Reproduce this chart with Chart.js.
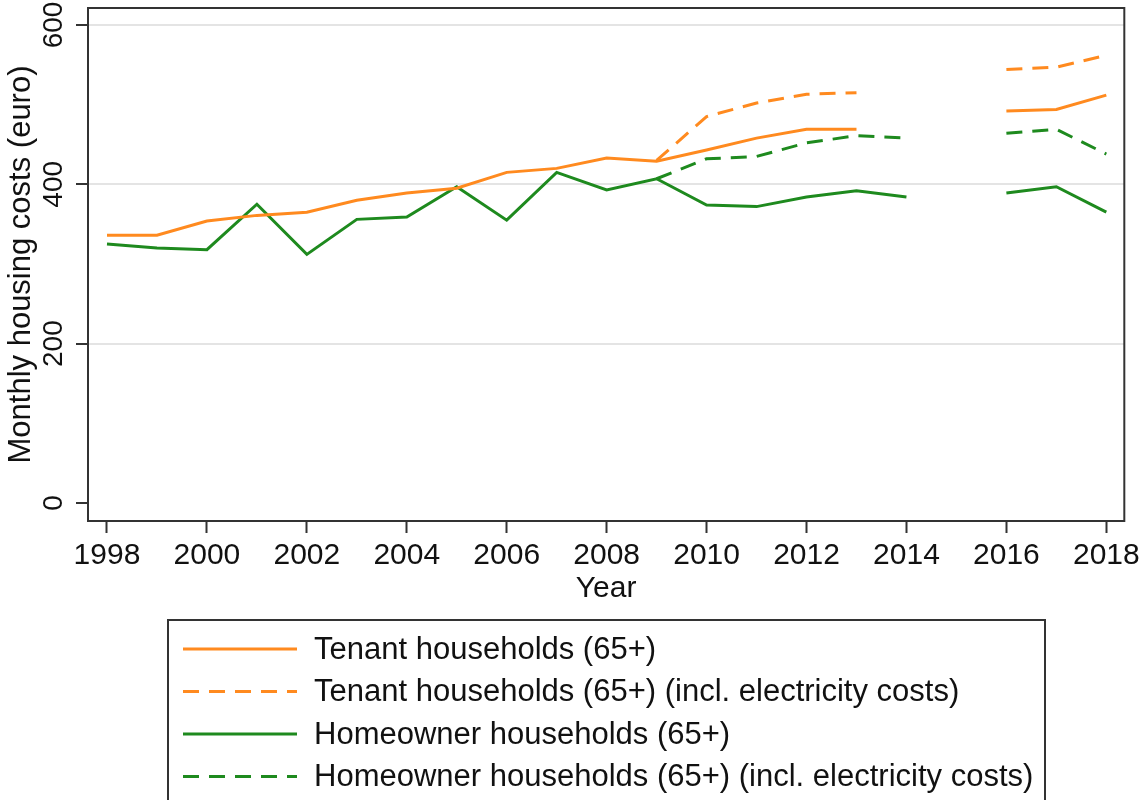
<!DOCTYPE html>
<html lang="en">
<head>
  <meta charset="UTF-8" />
  <title>Monthly housing costs</title>
  <style>
    html, body {
      margin: 0;
      padding: 0;
      background: white;
    }
    #wrap {
      width: 1145px;
      height: 800px;
    }
  </style>
</head>
<body>

<div id="wrap"><canvas id="costChart" width="1145" height="800"></canvas></div>

<script src="https://cdn.jsdelivr.net/npm/chart.js"></script>

<script>
  const years = [1998, 1999, 2000, 2001, 2002, 2003, 2004, 2005, 2006, 2007, 2008,
                 2009, 2010, 2011, 2012, 2013, 2014, 2015, 2016, 2017, 2018];
  const tenant      = [336, 336, 354, 361, 365, 380, 389, 395, 415, 420, 433,
                       429, 443, 458, 469, 469, null, null, 492, 494, 512];
  const tenantElec  = [null, null, null, null, null, null, null, null, null, null, null,
                       430, 485, 502, 513, 515, null, null, 544, 547, 562];
  const owner       = [325, 320, 318, 375, 312, 356, 359, 397, 355, 415, 393,
                       407, 374, 372, 384, 392, 384, null, 389, 397, 365];
  const ownerElec   = [null, null, null, null, null, null, null, null, null, null, null,
                       407, 432, 435, 452, 461, 458, null, 464, 469, 438];

  const xTicks = [1998, 2000, 2002, 2004, 2006, 2008, 2010, 2012, 2014, 2016, 2018];
  const yTicks = [0, 200, 400, 600];

  const seriesLabels = [
    'Tenant households (65+)',
    'Tenant households (65+) (incl. electricity costs)',
    'Homeowner households (65+)',
    'Homeowner households (65+) (incl. electricity costs)'
  ];

  const ORANGE = '#ff8a1f';
  const GREEN = '#1e8a1e';
  const DASH = [16, 10];
  const FONT = '"Liberation Sans", Arial, sans-serif';

  function toPoints(values) {
    return years.map((yr, i) => ({ x: yr, y: values[i] }));
  }

  const datasets = [
    { label: seriesLabels[0], data: toPoints(tenant), borderColor: ORANGE, borderDash: [] },
    { label: seriesLabels[1], data: toPoints(tenantElec), borderColor: ORANGE, borderDash: DASH },
    { label: seriesLabels[2], data: toPoints(owner), borderColor: GREEN, borderDash: [] },
    { label: seriesLabels[3], data: toPoints(ownerElec), borderColor: GREEN, borderDash: DASH }
  ].map(d => Object.assign(d, {
    borderWidth: 3,
    pointRadius: 0,
    tension: 0,
    spanGaps: false,
    fill: false
  }));

  // rotated y tick labels, box around plot, boxed legend below
  const decorations = {
    id: 'decorations',
    afterDraw(chart) {
      const ctx = chart.ctx;
      const area = chart.chartArea;
      const yScale = chart.scales.y;

      ctx.save();
      ctx.fillStyle = '#111';
      ctx.font = '28px ' + FONT;
      ctx.textAlign = 'center';
      ctx.textBaseline = 'middle';
      yScale.ticks.forEach(t => {
        ctx.save();
        ctx.translate(54, yScale.getPixelForValue(t.value));
        ctx.rotate(-Math.PI / 2);
        ctx.fillText(String(t.value), 0, 0);
        ctx.restore();
      });
      ctx.restore();

      ctx.save();
      ctx.strokeStyle = '#333';
      ctx.lineWidth = 2;
      ctx.strokeRect(area.left, area.top, area.right - area.left, area.bottom - area.top);
      ctx.restore();

      // legend
      ctx.save();
      ctx.strokeStyle = '#333';
      ctx.lineWidth = 2;
      ctx.strokeRect(168, 620, 877, 200);
      ctx.font = '31px ' + FONT;
      ctx.textBaseline = 'middle';
      ctx.textAlign = 'left';
      chart.data.datasets.forEach((ds, i) => {
        const y = 649 + i * 42.5;
        ctx.strokeStyle = ds.borderColor;
        ctx.lineWidth = 3;
        ctx.setLineDash(ds.borderDash);
        ctx.beginPath();
        ctx.moveTo(183, y);
        ctx.lineTo(297, y);
        ctx.stroke();
        ctx.setLineDash([]);
        ctx.fillStyle = '#111';
        ctx.fillText(ds.label, 314, y + 1);
      });
      ctx.restore();
    }
  };

  const ctx = document.getElementById('costChart').getContext('2d');
  const costChart = new Chart(ctx, {
    type: 'line',
    data: { datasets: datasets },
    options: {
      responsive: false,
      animation: false,
      layout: {
        padding: { left: 0, right: 18, top: 8, bottom: 189 }
      },
      plugins: {
        legend: { display: false },
        tooltip: { enabled: false }
      },
      scales: {
        x: {
          type: 'linear',
          min: 1997.62,
          max: 2018.36,
          afterBuildTicks: scale => {
            scale.ticks = xTicks.map(v => ({ value: v }));
          },
          afterFit: scale => {
            scale.height = 90;
          },
          ticks: {
            color: '#111',
            font: { family: FONT, size: 30 },
            padding: 5,
            maxRotation: 0,
            autoSkip: false,
            callback: v => String(v)
          },
          grid: {
            drawOnChartArea: false,
            drawTicks: true,
            tickLength: 12,
            tickColor: '#333',
            tickWidth: 2,
            color: '#333'
          },
          border: { display: true, color: '#333', width: 2 },
          title: {
            display: true,
            text: 'Year',
            color: '#111',
            font: { family: FONT, size: 30 },
            padding: { top: 0, bottom: 4 }
          }
        },
        y: {
          min: -22.6,
          max: 621.3,
          afterBuildTicks: scale => {
            scale.ticks = yTicks.map(v => ({ value: v }));
          },
          afterFit: scale => {
            scale.width = 88;
          },
          ticks: { display: false },
          grid: {
            drawTicks: true,
            tickLength: 12,
            tickColor: '#333',
            tickWidth: 2,
            lineWidth: 2,
            color: c => (c.tick && c.tick.value === 0) ? 'rgba(0,0,0,0)' : '#e4e4e4'
          },
          border: { display: true, color: '#333', width: 2 },
          title: {
            display: true,
            text: 'Monthly housing costs (euro)',
            color: '#111',
            font: { family: FONT, size: 31 },
            padding: { top: 3, bottom: 0 }
          }
        }
      }
    },
    plugins: [decorations]
  });
</script>

</body>
</html>
